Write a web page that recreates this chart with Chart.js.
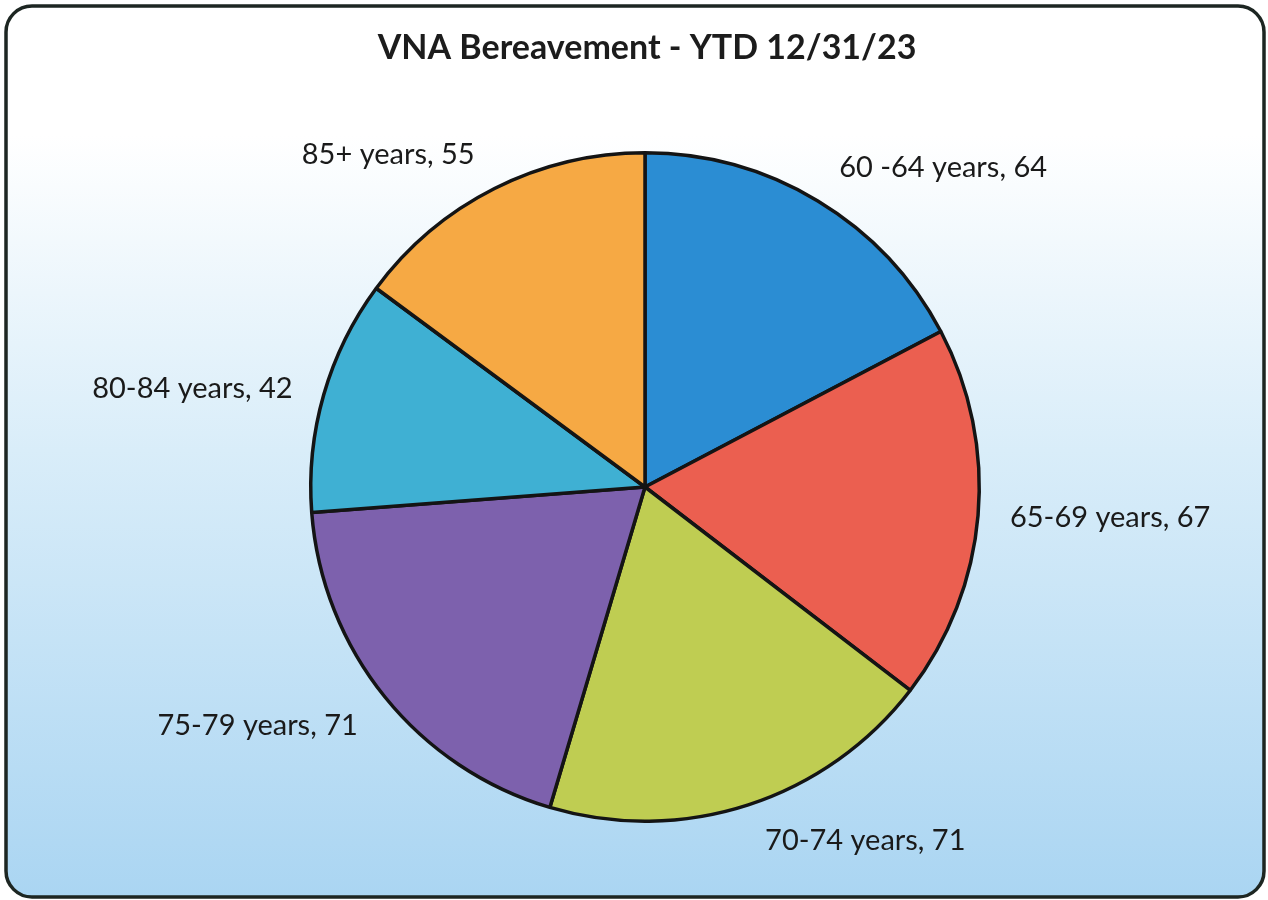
<!DOCTYPE html>
<html>
<head>
<meta charset="utf-8">
<title>VNA Bereavement</title>
<script src="https://cdn.jsdelivr.net/npm/chart.js@4"></script>
<style>
  html, body { margin: 0; padding: 0; background: #fff; }
  #wrap { width: 1268px; height: 900px; }
</style>
</head>
<body>
<div id="wrap"><canvas id="pieChart"></canvas></div>
<script>
const ageGroups = ["60 -64 years", "65-69 years", "70-74 years", "75-79 years", "80-84 years", "85+ years"];
const clients = [64, 67, 71, 71, 42, 55];
const sliceColors = ["#2b8dd3", "#eb5f50", "#bfcd52", "#7d61ad", "#3fb0d3", "#f6a944"];
const chartTitle = "VNA Bereavement - YTD 12/31/23";

const FONT = "Lato, 'Open Sans', sans-serif";

// background panel: white to pale blue, rounded dark frame
const panelBg = {
  id: "panelBg",
  beforeDraw(chart) {
    const ctx = chart.ctx;
    const w = chart.width, h = chart.height;
    ctx.save();
    const g = ctx.createLinearGradient(0, 0, 0, h);
    g.addColorStop(0, "#ffffff");
    g.addColorStop(0.15, "#ffffff");
    g.addColorStop(0.5, "#d9edf9");
    g.addColorStop(1, "#aad5f2");
    ctx.beginPath();
    ctx.roundRect(6, 6, w - 10, h - 9, 26);
    ctx.fillStyle = g;
    ctx.fill();
    ctx.lineWidth = 3.5;
    ctx.strokeStyle = "#1d2622";
    ctx.stroke();

    ctx.fillStyle = "#1c1c1c";
    ctx.font = "bold 34px " + FONT;
    ctx.textAlign = "center";
    ctx.textBaseline = "middle";
    ctx.fillText(chartTitle, 647, 48);
    ctx.restore();
  }
};

// category + value labels outside each slice
const outerLabels = {
  id: "outerLabels",
  afterDatasetsDraw(chart) {
    const ctx = chart.ctx;
    const meta = chart.getDatasetMeta(0);
    ctx.save();
    ctx.font = "29px " + FONT;
    ctx.fillStyle = "#1a1a1a";
    meta.data.forEach((arc, i) => {
      const mid = (arc.startAngle + arc.endAngle) / 2;
      const r = arc.outerRadius + 22;
      const cx = Math.cos(mid), sy = Math.sin(mid);
      let x = arc.x + cx * r;
      const y = arc.y + sy * r;
      ctx.textAlign = cx >= 0 ? "left" : "right";
      x += cx >= 0 ? 10 : -10;
      if (sy < -0.5) ctx.textBaseline = "bottom";
      else if (sy > 0.5) ctx.textBaseline = "top";
      else ctx.textBaseline = "middle";
      ctx.fillText(ageGroups[i] + ", " + clients[i], x, y);
    });
    ctx.restore();
  }
};

new Chart(document.getElementById("pieChart").getContext("2d"), {
  type: "pie",
  data: {
    labels: ageGroups,
    datasets: [{
      data: clients,
      backgroundColor: sliceColors,
      borderColor: "#141414",
      borderWidth: 3.5
    }]
  },
  options: {
    responsive: true,
    maintainAspectRatio: false,
    animation: false,
    layout: { padding: { top: 151, bottom: 77, left: 198, right: 176 } },
    plugins: {
      legend: { display: false },
      tooltip: { enabled: false }
    }
  },
  plugins: [panelBg, outerLabels]
});
</script>
</body>
</html>
